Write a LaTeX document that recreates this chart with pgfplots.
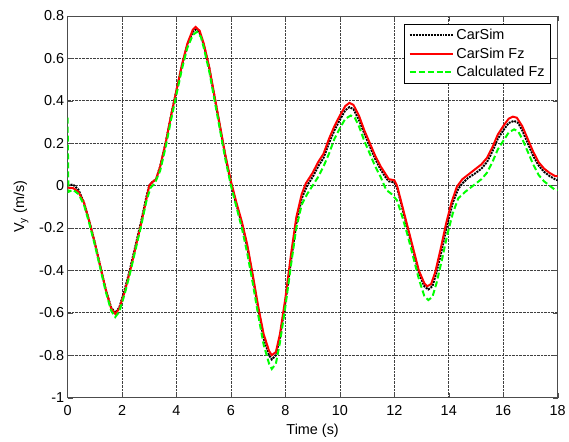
\documentclass[border=0pt]{standalone}
\usepackage{pgfplots}
\pgfplotsset{compat=1.18}
\usepackage{fontspec}
\setmainfont{Liberation Sans}
\begin{document}
\begin{tikzpicture}
\begin{axis}[
  scale only axis,
  width=493pt, height=384pt,
  xmin=0, xmax=18, ymin=-1, ymax=0.8,
  xtick={0,2,...,18},
  ytick={-1,-0.8,-0.6,-0.4,-0.2,0,0.2,0.4,0.6,0.8},
  tick align=inside,
  tick pos=both,
  major tick length=5pt,
  grid=major,
  major grid style={densely dotted, black!75, line width=0.6pt},
  axis line style={black!70, line width=0.6pt},
  tick style={black!70},
  every tick label/.append style={font=\fontsize{14.5}{16}\selectfont},
  /pgf/number format/assume math mode=true,
  yticklabel style={/pgf/number format/fixed, /pgf/number format/precision=1},
  xticklabel style={yshift=-4pt},
  xlabel={Time (s)},
  ylabel={V\textsubscript{y} (m/s)},
  label style={font=\fontsize{14.5}{16}\selectfont},
  xlabel style={yshift=-2pt},
  ylabel style={yshift=4pt},
  legend style={at={(0.986,0.98)}, anchor=north east, draw=black, line width=0.6pt,
    font=\fontsize{14.5}{16}\selectfont, row sep=2.5pt, inner xsep=4pt, inner ysep=3.5pt},
  legend cell align=left,
  legend image code/.code={\draw[#1] (0pt,0pt) -- (44pt,0pt);},
]
\addplot[black, densely dotted, line width=2pt] coordinates {
(0,0.0)(0.2,0.005)(0.4,-0.02)(0.6,-0.08)(0.8,-0.17)(1.0,-0.27)(1.2,-0.38)(1.4,-0.49)(1.6,-0.575)(1.75,-0.60)(1.9,-0.575)(2.1,-0.49)(2.3,-0.39)(2.5,-0.28)(2.7,-0.17)(2.9,-0.05)(3.0,0.0)(3.1,0.015)(3.25,0.03)(3.4,0.09)(3.6,0.2)(3.8,0.33)(4.0,0.45)(4.2,0.565)(4.4,0.665)(4.6,0.725)(4.7,0.735)(4.85,0.72)(5.0,0.665)(5.2,0.555)(5.4,0.415)(5.6,0.275)(5.8,0.135)(6.0,0.01)(6.2,-0.09)(6.4,-0.18)(6.6,-0.29)(6.8,-0.43)(7.0,-0.58)(7.2,-0.72)(7.4,-0.80)(7.5,-0.82)(7.65,-0.80)(7.8,-0.715)(8.0,-0.55)(8.2,-0.36)(8.4,-0.18)(8.6,-0.06)(8.8,0.0)(9.0,0.04)(9.2,0.09)(9.4,0.13)(9.6,0.2)(9.8,0.26)(10.0,0.31)(10.2,0.355)(10.35,0.37)(10.5,0.36)(10.7,0.31)(10.9,0.245)(11.1,0.185)(11.3,0.125)(11.5,0.075)(11.7,0.035)(11.8,0.02)(12.0,0.015)(12.1,-0.01)(12.3,-0.11)(12.5,-0.21)(12.7,-0.31)(12.9,-0.41)(13.1,-0.475)(13.25,-0.49)(13.4,-0.475)(13.55,-0.41)(13.75,-0.30)(13.95,-0.18)(14.15,-0.08)(14.35,-0.015)(14.5,0.01)(14.7,0.035)(15.0,0.06)(15.2,0.08)(15.4,0.11)(15.6,0.16)(15.8,0.22)(16.0,0.26)(16.2,0.295)(16.4,0.305)(16.55,0.295)(16.7,0.26)(16.9,0.2)(17.1,0.14)(17.3,0.095)(17.5,0.065)(17.7,0.045)(17.9,0.03)(18,0.025)
};
\addlegendentry{CarSim}
\addplot[red, line width=2pt] coordinates {
(0,-0.01)(0.2,-0.012)(0.4,-0.03)(0.6,-0.08)(0.8,-0.17)(1.0,-0.27)(1.2,-0.38)(1.4,-0.49)(1.6,-0.58)(1.75,-0.605)(1.9,-0.58)(2.1,-0.50)(2.3,-0.40)(2.5,-0.29)(2.7,-0.18)(2.9,-0.06)(3.0,0.0)(3.1,0.015)(3.25,0.03)(3.4,0.09)(3.6,0.2)(3.8,0.33)(4.0,0.45)(4.2,0.57)(4.4,0.67)(4.6,0.735)(4.7,0.748)(4.85,0.73)(5.0,0.67)(5.2,0.56)(5.4,0.42)(5.6,0.28)(5.8,0.14)(6.0,0.02)(6.2,-0.08)(6.4,-0.17)(6.6,-0.28)(6.8,-0.42)(7.0,-0.57)(7.2,-0.70)(7.4,-0.78)(7.5,-0.80)(7.65,-0.785)(7.8,-0.70)(8.0,-0.53)(8.2,-0.33)(8.4,-0.15)(8.6,-0.04)(8.75,0.01)(9.0,0.06)(9.2,0.11)(9.4,0.15)(9.6,0.22)(9.8,0.28)(10.0,0.33)(10.2,0.375)(10.35,0.39)(10.5,0.38)(10.7,0.33)(10.9,0.26)(11.1,0.20)(11.3,0.14)(11.5,0.09)(11.7,0.05)(11.8,0.03)(12.0,0.025)(12.1,0.0)(12.3,-0.1)(12.5,-0.2)(12.7,-0.30)(12.9,-0.40)(13.1,-0.46)(13.2,-0.475)(13.35,-0.465)(13.5,-0.41)(13.7,-0.30)(13.9,-0.18)(14.1,-0.08)(14.3,-0.005)(14.5,0.03)(14.7,0.05)(15.0,0.08)(15.2,0.10)(15.4,0.13)(15.6,0.18)(15.8,0.24)(16.0,0.28)(16.2,0.315)(16.35,0.325)(16.5,0.32)(16.7,0.28)(16.9,0.22)(17.1,0.16)(17.3,0.11)(17.5,0.08)(17.7,0.06)(17.9,0.045)(18,0.045)
};
\addlegendentry{CarSim Fz}
\addplot[green, dash pattern=on 6pt off 3pt, line width=2pt] coordinates {
(0,0.32)(0.03,-0.03)(0.2,-0.02)(0.4,-0.04)(0.6,-0.09)(0.8,-0.18)(1.0,-0.28)(1.2,-0.39)(1.4,-0.50)(1.6,-0.59)(1.75,-0.62)(1.9,-0.595)(2.1,-0.51)(2.3,-0.41)(2.5,-0.30)(2.7,-0.19)(2.9,-0.07)(3.05,-0.01)(3.2,0.01)(3.4,0.07)(3.6,0.18)(3.8,0.31)(4.0,0.43)(4.2,0.55)(4.4,0.65)(4.6,0.71)(4.75,0.725)(4.9,0.70)(5.0,0.65)(5.2,0.54)(5.4,0.40)(5.6,0.26)(5.8,0.12)(6.0,0.0)(6.2,-0.10)(6.4,-0.20)(6.6,-0.32)(6.8,-0.46)(7.0,-0.61)(7.2,-0.75)(7.4,-0.84)(7.5,-0.865)(7.65,-0.84)(7.8,-0.74)(8.0,-0.57)(8.2,-0.38)(8.4,-0.20)(8.6,-0.09)(8.8,-0.04)(9.0,0.0)(9.2,0.04)(9.4,0.09)(9.6,0.15)(9.8,0.22)(10.0,0.27)(10.2,0.315)(10.4,0.33)(10.55,0.32)(10.7,0.28)(10.9,0.21)(11.1,0.15)(11.3,0.09)(11.5,0.04)(11.7,-0.02)(11.9,-0.04)(12.1,-0.07)(12.3,-0.15)(12.5,-0.24)(12.7,-0.34)(12.9,-0.44)(13.1,-0.52)(13.25,-0.54)(13.4,-0.525)(13.55,-0.46)(13.75,-0.35)(13.95,-0.23)(14.15,-0.13)(14.35,-0.06)(14.6,-0.03)(14.8,-0.01)(15.0,0.01)(15.2,0.03)(15.4,0.06)(15.6,0.11)(15.8,0.17)(16.0,0.21)(16.2,0.25)(16.4,0.265)(16.55,0.255)(16.7,0.22)(16.9,0.16)(17.1,0.10)(17.3,0.05)(17.5,0.02)(17.7,0.0)(17.9,-0.02)(18,-0.02)
};
\addlegendentry{Calculated Fz}
\end{axis}
\path ([xshift=-68pt,yshift=-44pt]current axis.south west) rectangle ([xshift=8pt,yshift=16pt]current axis.north east);
\end{tikzpicture}
\end{document}
